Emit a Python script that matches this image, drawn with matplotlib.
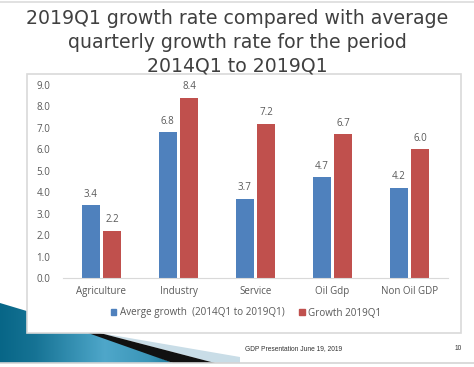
import numpy as np
import matplotlib.pyplot as plt
from matplotlib.patches import Polygon, Rectangle, Patch

categories = ['Agriculture', 'Industry', 'Service', 'Oil Gdp', 'Non Oil GDP']
avg_growth = [3.4, 6.8, 3.7, 4.7, 4.2]
growth_2019q1 = [2.2, 8.4, 7.2, 6.7, 6.0]
series_names = ['Averge growth  (2014Q1 to 2019Q1)', 'Growth 2019Q1']
title_lines = ['2019Q1 growth rate compared with average',
               'quarterly growth rate for the period',
               '2014Q1 to 2019Q1']
footer = 'GDP Presentation June 19, 2019'
page_no = '10'

W, H = 474, 367
BLUE = '#4f81bd'
RED = '#c0504d'
TXT = '#595959'
CHART_FONT = 'Open Sans'


def fx(px):
    return px / W


def fy(py):
    return 1 - py / H


def main():
    fig = plt.figure(figsize=(W / 100, H / 100), dpi=100)
    fig.patch.set_facecolor('white')

    # background decoration (bottom-left wedge)
    bg = fig.add_axes([0, 0, 1, 1])
    bg.set_xlim(0, W)
    bg.set_ylim(H, 0)
    bg.axis('off')
    bg.plot([0, W], [2, 2], color='#dcdcdc', lw=1.2)
    bg.plot([0, W], [363, 363], color='#d4d4d4', lw=1.2)

    pale = Polygon([(100, 333), (240, 357), (240, 363), (215, 363)],
                   closed=True, facecolor='#c9dde7', edgecolor='none')
    bg.add_patch(pale)
    teal = Polygon([(0, 303), (90, 330), (173, 363), (0, 363)],
                   closed=True, facecolor='none', edgecolor='none')
    bg.add_patch(teal)
    grad = np.linspace(0, 1, 256)
    shade = np.interp(grad, [0, 0.2, 0.6, 0.85, 1], [0.0, 0.15, 0.75, 0.55, 0.2])
    c0 = np.array([0.03, 0.40, 0.53])
    c1 = np.array([0.40, 0.74, 0.88])
    img = c0[None, :] + (c1 - c0)[None, :] * shade[:, None]
    im = bg.imshow(img[None, :, :], extent=[0, 175, 363, 300], aspect='auto',
                   interpolation='bilinear')
    im.set_clip_path(teal)
    black = Polygon([(88, 333), (100, 333), (215, 363), (173, 363)],
                    closed=True, facecolor='#111111', edgecolor='none')
    bg.add_patch(black)

    # chart box
    bg.add_patch(Rectangle((27, 74), 434, 259, facecolor='white',
                           edgecolor='#d9d9d9', lw=1.2))

    # title
    for line, base in zip(title_lines, [24, 48, 72]):
        fig.text(0.5, fy(base), line, ha='center', va='baseline',
                 fontsize=13.6, color='#404040', family='DejaVu Sans')

    # bar chart
    ax = fig.add_axes([fx(63), fy(278), fx(448 - 63), (278 - 85) / H])
    x = np.arange(len(categories))
    bw = 0.23
    gap = 0.05
    b1 = ax.bar(x - (bw + gap) / 2, avg_growth, bw, color=BLUE)
    b2 = ax.bar(x + (bw + gap) / 2, growth_2019q1, bw, color=RED)
    for bars, vals in ((b1, avg_growth), (b2, growth_2019q1)):
        for b, v in zip(bars, vals):
            ax.annotate(f'{v:.1f}', (b.get_x() + b.get_width() / 2, v),
                        xytext=(0, 4), textcoords='offset points',
                        ha='center', va='bottom', fontsize=7, color=TXT,
                        family=CHART_FONT)
    ax.set_xlim(-0.5, len(categories) - 0.5)
    ax.set_ylim(0, 9)
    ax.set_yticks(np.arange(0, 10, 1))
    ax.set_yticklabels([f'{v:.1f}' for v in np.arange(0, 10, 1)],
                       family=CHART_FONT)
    ax.set_xticks(x)
    ax.set_xticklabels(categories, family=CHART_FONT)
    ax.tick_params(axis='both', length=0, labelsize=7, colors=TXT)
    ax.tick_params(axis='y', pad=9)
    ax.tick_params(axis='x', pad=6)
    for s in ('top', 'right', 'left'):
        ax.spines[s].set_visible(False)
    ax.spines['bottom'].set_color('#d9d9d9')
    ax.patch.set_alpha(0)

    handles = [Patch(color=BLUE, label=series_names[0]),
               Patch(color=RED, label=series_names[1])]
    leg = fig.legend(handles=handles, loc='center', ncol=2,
                     bbox_to_anchor=(fx(246), fy(313)), frameon=False,
                     handlelength=0.55, handleheight=0.55, handletextpad=0.35,
                     columnspacing=1.5, prop={'family': CHART_FONT, 'size': 7.1})
    for t in leg.get_texts():
        t.set_color(TXT)

    # footer
    fig.text(fx(245), fy(349), footer, ha='left', va='center', fontsize=4.8,
             color='#333333', family='Liberation Sans')
    fig.text(fx(458), fy(349), page_no, ha='center', va='center', fontsize=4.8,
             color='#333333', family='Liberation Sans')

    fig.savefig('out.png', dpi=100)


if __name__ == '__main__':
    main()
